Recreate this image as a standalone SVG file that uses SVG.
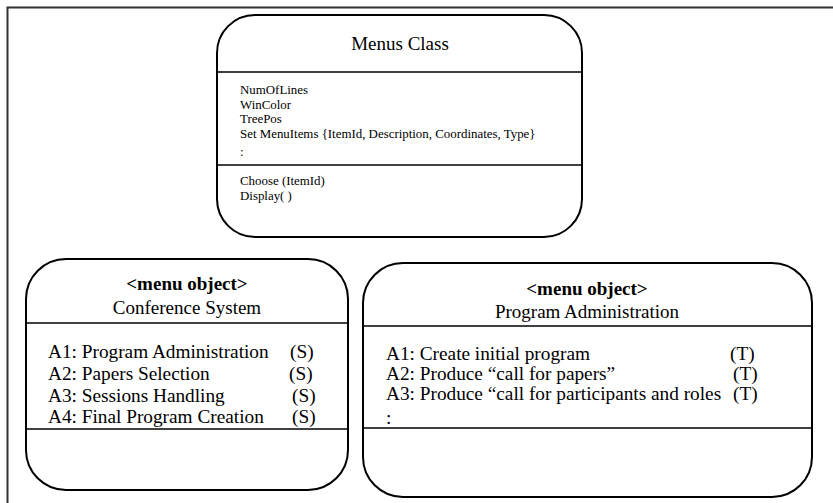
<svg xmlns="http://www.w3.org/2000/svg" width="833" height="503" viewBox="0 0 833 503">
  <style>
    .box { fill: #fff; stroke: #000; stroke-width: 2; }
    .div { stroke: #000; stroke-width: 1.5; }
    .frame { fill: none; stroke: #333; stroke-width: 2; }
    text { font-family: "Liberation Serif", "Times New Roman", serif; fill: #000; }
    .title { font-size: 19px; text-anchor: middle; }
    .stereo { font-size: 19px; font-weight: bold; text-anchor: middle; }
    .small { font-size: 12.9px; }
    .item { font-size: 19.3px; }
  </style>
  <rect width="833" height="503" fill="#fff"/>
  <!-- page frame -->
  <path class="frame" d="M7.5,503 V7.5 H833"/>

  <g id="menus-class">
    <rect class="box" x="217" y="15" width="365" height="222" rx="38" ry="38"/>
    <line class="div" x1="217" y1="72" x2="582" y2="72"/>
    <line class="div" x1="217" y1="165" x2="582" y2="165"/>
    <text class="title" x="400" y="50">Menus Class</text>
    <text class="small" x="240" y="94">NumOfLines</text>
    <text class="small" x="240" y="108.5">WinColor</text>
    <text class="small" x="240" y="123">TreePos</text>
    <text class="small" x="240" y="138">Set MenuItems {ItemId, Description, Coordinates, Type}</text>
    <text class="small" x="240" y="156">:</text>
    <text class="small" x="240" y="185">Choose (ItemId)</text>
    <text class="small" x="240" y="199.5">Display( )</text>
  </g>

  <g id="conference-system">
    <rect class="box" x="26" y="259" width="322" height="231" rx="40" ry="40"/>
    <line class="div" x1="26" y1="323" x2="348" y2="323"/>
    <line class="div" x1="26" y1="429" x2="348" y2="429"/>
    <text class="stereo" x="187" y="290">&lt;menu object&gt;</text>
    <text class="title" x="187" y="314">Conference System</text>
    <text class="item" x="48" y="358">A1: Program Administration</text>
    <text class="item" x="290" y="358">(S)</text>
    <text class="item" x="48" y="380">A2: Papers Selection</text>
    <text class="item" x="289" y="380">(S)</text>
    <text class="item" x="48" y="402">A3: Sessions Handling</text>
    <text class="item" x="292" y="402">(S)</text>
    <text class="item" x="48" y="423">A4: Final Program Creation</text>
    <text class="item" x="292" y="423">(S)</text>
  </g>

  <g id="program-administration">
    <rect class="box" x="363" y="263" width="449" height="234" rx="40" ry="40"/>
    <line class="div" x1="363" y1="326" x2="812" y2="326"/>
    <line class="div" x1="363" y1="428" x2="812" y2="428"/>
    <text class="stereo" x="587" y="295">&lt;menu object&gt;</text>
    <text class="title" x="587" y="318">Program Administration</text>
    <text class="item" x="386" y="360">A1: Create initial program</text>
    <text class="item" x="730" y="360">(T)</text>
    <text class="item" x="386" y="380">A2: Produce “call for papers”</text>
    <text class="item" x="733" y="380">(T)</text>
    <text class="item" x="386" y="400">A3: Produce “call for participants and roles</text>
    <text class="item" x="733" y="400">(T)</text>
    <text class="item" x="386" y="424">:</text>
  </g>
</svg>
